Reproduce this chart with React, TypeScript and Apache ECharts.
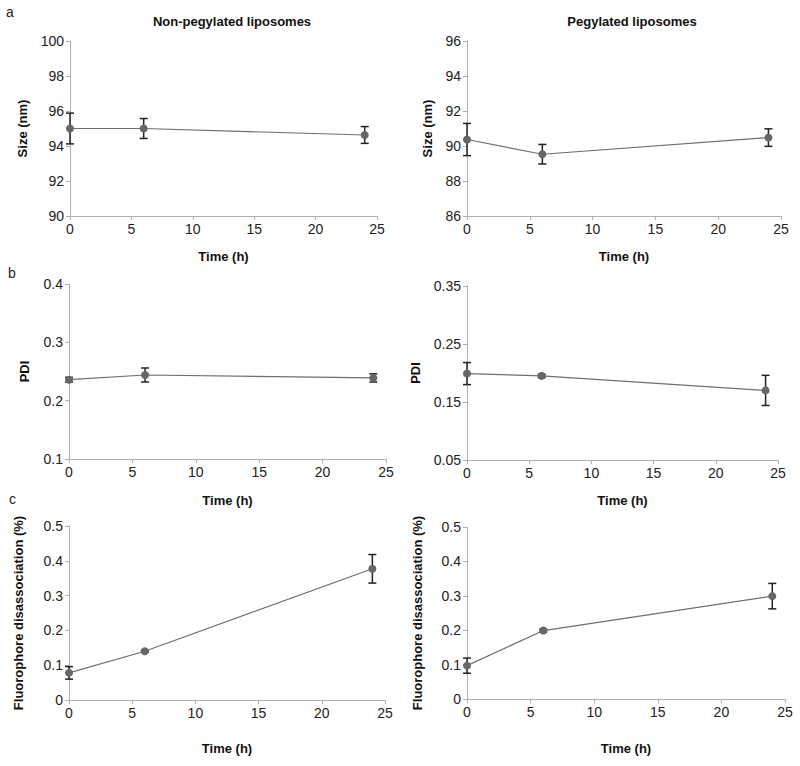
import React, { useEffect, useRef } from "react";
import * as echarts from "echarts";

const time = [0, 6, 24];
const xTicks = [0, 5, 10, 15, 20, 25];

const sizeNonPeg = [95.0, 95.0, 94.63];
const sizeNonPegErr = [0.88, 0.57, 0.48];
const sizePeg = [90.37, 89.53, 90.48];
const sizePegErr = [0.92, 0.56, 0.5];

const pdiNonPeg = [0.236, 0.244, 0.239];
const pdiNonPegErr = [0.004, 0.012, 0.007];
const pdiPeg = [0.199, 0.195, 0.17];
const pdiPegErr = [0.019, 0.003, 0.026];

const fluoNonPeg = [0.078, 0.14, 0.377];
const fluoNonPegErr = [0.018, 0.003, 0.041];
const fluoPeg = [0.097, 0.199, 0.299];
const fluoPegErr = [0.022, 0.004, 0.037];

const sizeNonPegTicks = [90, 92, 94, 96, 98, 100];
const sizePegTicks = [86, 88, 90, 92, 94, 96];
const pdiNonPegTicks = [0.1, 0.2, 0.3, 0.4];
const pdiPegTicks = [0.05, 0.15, 0.25, 0.35];
const fluoTicks = [0, 0.1, 0.2, 0.3, 0.4, 0.5];

const titles = ["Non-pegylated liposomes", "Pegylated liposomes"];
const panelLetters = ["a", "b", "c"];
const yNames = ["Size (nm)", "Size (nm)", "PDI", "PDI", "Fluorophore disassociation (%)", "Fluorophore disassociation (%)"];
const xName = "Time (h)";

const FONT = "Liberation Sans, Arial, sans-serif";

export default function App() {
  const ref = useRef<HTMLDivElement>(null);
  useEffect(() => {
    document.body.style.margin = "0";
    const chart = echarts.init(ref.current!, null, { renderer: "svg" });

    const panels = [
      { grid: { left: 70, top: 41, width: 307, height: 175 }, vals: sizeNonPeg, err: sizeNonPegErr, ticks: sizeNonPegTicks, yGap: 41, xGap: 34 },
      { grid: { left: 467, top: 41, width: 314, height: 175 }, vals: sizePeg, err: sizePegErr, ticks: sizePegTicks, yGap: 33, xGap: 34 },
      { grid: { left: 69, top: 284, width: 317, height: 175 }, vals: pdiNonPeg, err: pdiNonPegErr, ticks: pdiNonPegTicks, yGap: 38, xGap: 35 },
      { grid: { left: 467, top: 286, width: 311, height: 174 }, vals: pdiPeg, err: pdiPegErr, ticks: pdiPegTicks, yGap: 45, xGap: 34 },
      { grid: { left: 69, top: 526, width: 316, height: 174 }, vals: fluoNonPeg, err: fluoNonPegErr, ticks: fluoTicks, yGap: 44, xGap: 42 },
      { grid: { left: 467, top: 527, width: 318, height: 172 }, vals: fluoPeg, err: fluoPegErr, ticks: fluoTicks, yGap: 43, xGap: 43 },
    ];

    const axisLine = { show: true, lineStyle: { color: "#b0b0b0", width: 1 } };
    const axisTick = { show: true, length: 4, lineStyle: { color: "#b0b0b0" } };
    const labelStyle = { color: "#222", fontSize: 14, fontFamily: FONT };
    const nameStyle = { color: "#111", fontSize: 13, fontWeight: "bold" as const, fontFamily: FONT };

    const grids: any[] = [];
    const xAxes: any[] = [];
    const yAxes: any[] = [];
    const series: any[] = [];

    panels.forEach((p, i) => {
      grids.push({ ...p.grid, containLabel: false });
      xAxes.push({
        type: "value",
        gridIndex: i,
        min: xTicks[0],
        max: xTicks[xTicks.length - 1],
        interval: 5,
        axisLine,
        axisTick: { ...axisTick, customValues: xTicks },
        axisLabel: { ...labelStyle, margin: 6, customValues: xTicks },
        splitLine: { show: false },
        name: xName,
        nameLocation: "middle",
        nameGap: p.xGap,
        nameTextStyle: nameStyle,
      });
      yAxes.push({
        type: "value",
        gridIndex: i,
        min: p.ticks[0],
        max: p.ticks[p.ticks.length - 1],
        axisLine,
        axisTick: { ...axisTick, customValues: p.ticks },
        axisLabel: { ...labelStyle, margin: 6, customValues: p.ticks },
        splitLine: { show: false },
        name: yNames[i],
        nameLocation: "middle",
        nameGap: p.yGap,
        nameTextStyle: nameStyle,
      });
      series.push({
        type: "custom",
        xAxisIndex: i,
        yAxisIndex: i,
        z: 2,
        data: time.map((t, k) => [t, p.vals[k] - p.err[k], p.vals[k] + p.err[k]]),
        renderItem: (params: any, api: any) => {
          const x = api.value(0);
          const lo = api.coord([x, api.value(1)]);
          const hi = api.coord([x, api.value(2)]);
          const hw = 4;
          const st = { stroke: "#222", lineWidth: 1.5 };
          return {
            type: "group",
            children: [
              { type: "line", shape: { x1: lo[0], y1: lo[1], x2: hi[0], y2: hi[1] }, style: st },
              { type: "line", shape: { x1: lo[0] - hw, y1: lo[1], x2: lo[0] + hw, y2: lo[1] }, style: st },
              { type: "line", shape: { x1: hi[0] - hw, y1: hi[1], x2: hi[0] + hw, y2: hi[1] }, style: st },
            ],
          };
        },
      });
      series.push({
        type: "line",
        xAxisIndex: i,
        yAxisIndex: i,
        z: 3,
        data: time.map((t, k) => [t, p.vals[k]]),
        symbol: "circle",
        symbolSize: 8,
        showSymbol: true,
        lineStyle: { color: "#6e6e6e", width: 1.2 },
        itemStyle: { color: "#666666" },
      });
    });

    chart.setOption({
      animation: false,
      backgroundColor: "#ffffff",
      title: [
        { text: titles[0], left: 227, top: 10, textAlign: "center", textStyle: { fontSize: 13, fontWeight: "bold", color: "#111", fontFamily: FONT } },
        { text: titles[1], left: 627, top: 10, textAlign: "center", textStyle: { fontSize: 13, fontWeight: "bold", color: "#111", fontFamily: FONT } },
      ],
      graphic: [
        { type: "text", left: 6, top: 5, style: { text: panelLetters[0], fontSize: 14, fill: "#222", fontFamily: FONT } },
        { type: "text", left: 8, top: 266, style: { text: panelLetters[1], fontSize: 14, fill: "#222", fontFamily: FONT } },
        { type: "text", left: 9, top: 492, style: { text: panelLetters[2], fontSize: 14, fill: "#222", fontFamily: FONT } },
      ],
      grid: grids,
      xAxis: xAxes,
      yAxis: yAxes,
      series,
    });
    return () => chart.dispose();
  }, []);
  return <div ref={ref} style={{ width: 800, height: 766 }} />;
}
